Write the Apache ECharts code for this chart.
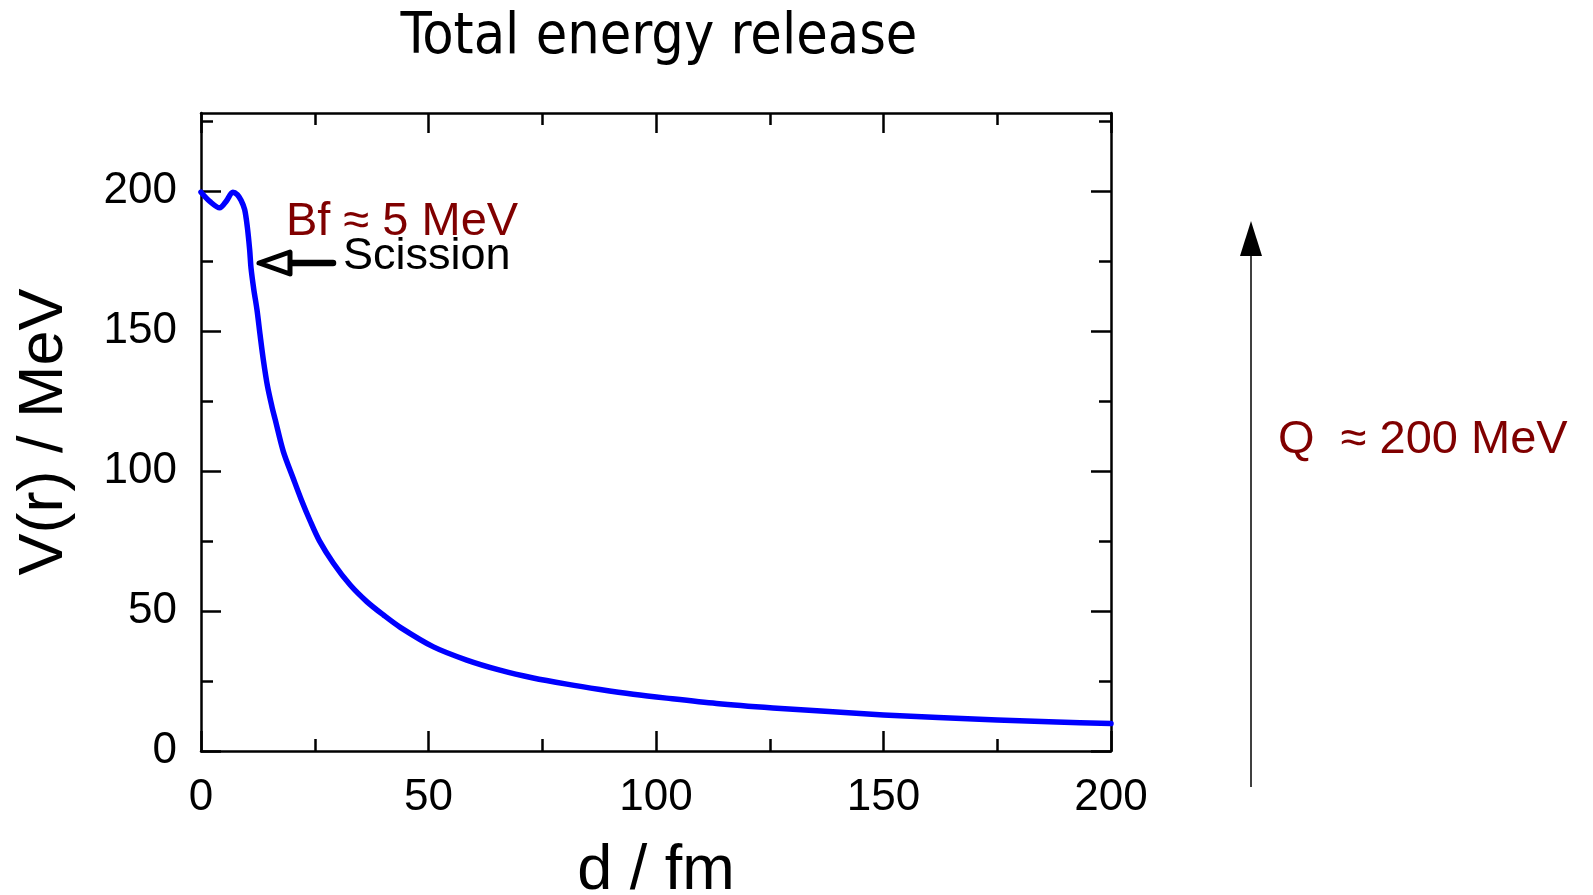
<!DOCTYPE html>
<html>
<head>
<meta charset="utf-8">
<script src="https://cdn.jsdelivr.net/npm/echarts@6/dist/echarts.min.js"></script>
<style>
html,body{margin:0;padding:0;background:#ffffff;}
#chart{width:1593px;height:895px;}
</style>
</head>
<body>
<div id="chart"></div>
<script>
// ---- data ----
const distance = [0, 2, 4.1, 5.6, 7.0, 8.0, 8.8, 9.6, 10.2, 10.7, 11.0, 11.6, 12.3, 13.0, 13.7, 14.6, 15.6, 16.3, 18.1, 20.3, 22.0, 24.0, 26.0, 29.1, 32.8, 36.5, 40.1, 43.8, 51.1, 58.4, 65.7, 73.0, 80.4, 87.7, 95.0, 102.3, 113.3, 125.7, 138.0, 150.0, 162.0, 175.0, 188.0, 200.0];
const energy   = [199.7, 196.3, 194.1, 196.6, 199.7, 198.8, 196.8, 193.5, 187.0, 179.0, 172.5, 165.0, 157.7, 148.5, 139.8, 130.5, 123.0, 118.5, 107.0, 97.3, 90.0, 82.2, 75.2, 67.1, 59.3, 53.3, 48.6, 44.2, 37.2, 32.5, 28.9, 26.1, 23.9, 22.0, 20.3, 18.9, 17.0, 15.4, 14.1, 12.9, 12.0, 11.1, 10.4, 9.8];

const xMajorTicks = [0, 50, 100, 150, 200];
const xMinorTicks = [25, 75, 125, 175];
const yMajorTicks = [0, 50, 100, 150, 200];
const yMinorTicks = [25, 75, 125, 175, 225];
const xRange = [0, 200];
const yRange = [0, 228];

const titleText = 'Total energy release';
const xName = 'd / fm';
const yName = 'V(r) / MeV';
const barrierText = 'Bf ≈ 5 MeV';
const scissionText = 'Scission';
const qText = 'Q  ≈ 200 MeV';

// ---- chart ----
const FONT = "'Liberation Sans', Arial, sans-serif";
const NARROW = "'Liberation Sans Narrow', 'DejaVu Sans Condensed', 'Liberation Sans', sans-serif";
const AXIS_LINE = { color: '#000', width: 2.5 };
const GRID_BOX = { left: 201, right: 482, top: 113, bottom: 144, containLabel: false, outerBoundsMode: 'none' };

function makeAxis(range, gridIndex, position, ticks, len, showLine, extra) {
  return Object.assign({
    type: 'value', gridIndex: gridIndex, position: position, min: range[0], max: range[1],
    axisLine: { show: showLine, onZero: false, lineStyle: AXIS_LINE },
    axisTick: { show: true, inside: true, length: len, customValues: ticks, lineStyle: AXIS_LINE },
    axisLabel: { show: false, customValues: ticks },
    splitLine: { show: false }
  }, extra || {});
}

const labelStyle = { show: true, color: '#000', fontFamily: FONT, fontSize: 44 };

const option = {
  backgroundColor: '#ffffff',
  animation: false,
  grid: [Object.assign({}, GRID_BOX), Object.assign({}, GRID_BOX)],
  xAxis: [
    makeAxis(xRange, 0, 'bottom', xMajorTicks, 20, true, {
      axisLabel: Object.assign({ customValues: xMajorTicks, margin: 25 }, labelStyle),
      name: xName, nameLocation: 'middle', nameGap: 89,
      nameTextStyle: { color: '#000', fontFamily: FONT, fontSize: 63 }
    }),
    makeAxis(xRange, 0, 'top', xMajorTicks, 20, true),
    makeAxis(xRange, 1, 'bottom', xMinorTicks, 12, false),
    makeAxis(xRange, 1, 'top', xMinorTicks, 12, false)
  ],
  yAxis: [
    makeAxis(yRange, 0, 'left', yMajorTicks, 20, true, {
      axisLabel: Object.assign({ customValues: yMajorTicks, margin: 24 }, labelStyle),
      name: yName, nameLocation: 'middle', nameGap: 125,
      nameTextStyle: { color: '#000', fontFamily: FONT, fontSize: 63 }
    }),
    makeAxis(yRange, 0, 'right', yMajorTicks, 20, true),
    makeAxis(yRange, 1, 'left', yMinorTicks, 12, false),
    makeAxis(yRange, 1, 'right', yMinorTicks, 12, false)
  ],
  series: [{
    type: 'line',
    xAxisIndex: 0, yAxisIndex: 0,
    data: distance.map((d, i) => [d, energy[i]]),
    showSymbol: false,
    smooth: 0.3,
    lineStyle: { color: '#0000ff', width: 5.5, join: 'round', cap: 'round' },
    clip: true
  }],
  graphic: [
    { type: 'text', x: 659, y: 38, style: { text: titleText, fontFamily: NARROW, fontSize: 57, fill: '#000', align: 'center', verticalAlign: 'middle' } },
    { type: 'text', x: 286, y: 222, style: { text: barrierText, fontFamily: FONT, fontSize: 47, fill: '#800000', align: 'left', verticalAlign: 'middle' } },
    { type: 'text', x: 343, y: 257, style: { text: scissionText, fontFamily: FONT, fontSize: 45, fill: '#000', align: 'left', verticalAlign: 'middle' } },
    { type: 'line', shape: { x1: 333, y1: 263, x2: 291, y2: 263 }, style: { stroke: '#000', lineWidth: 6.5, lineCap: 'round' } },
    { type: 'polygon', shape: { points: [[259, 263], [290, 252], [290, 274]] }, style: { fill: '#fff', stroke: '#000', lineWidth: 5, lineJoin: 'round' } },
    { type: 'line', shape: { x1: 1251, y1: 787, x2: 1251, y2: 250 }, style: { stroke: '#000', lineWidth: 1.5 } },
    { type: 'polygon', shape: { points: [[1251, 221], [1240, 256], [1262, 256]] }, style: { fill: '#000' } },
    { type: 'text', x: 1278, y: 440, style: { text: qText, fontFamily: FONT, fontSize: 47, fill: '#800000', align: 'left', verticalAlign: 'middle' } }
  ]
};

const chart = echarts.init(document.getElementById('chart'), null, { renderer: 'canvas', width: 1593, height: 895 });
chart.setOption(option);
</script>
</body>
</html>
